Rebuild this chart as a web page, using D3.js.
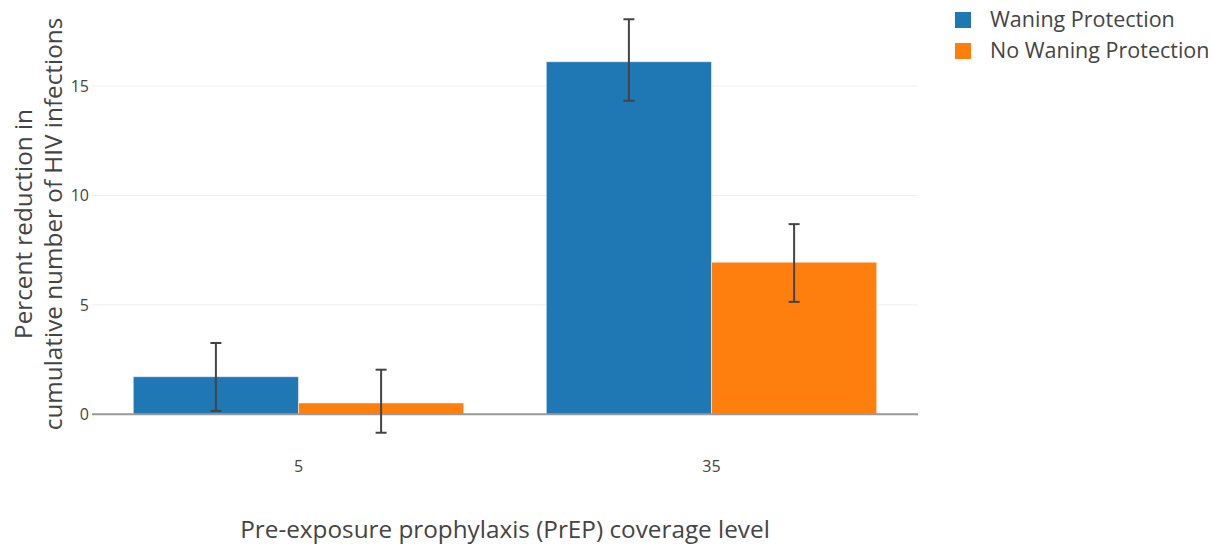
<!DOCTYPE html>
<html>
<head>
<meta charset="utf-8">
<script src="https://cdn.jsdelivr.net/npm/d3@7"></script>
<style>
  body { margin: 0; background: #fff; }
  svg { font-family: "Open Sans", sans-serif; }
</style>
</head>
<body>
<svg id="chart" width="1213" height="548"></svg>
<script>
// --- datos ---
const categories = ["5", "35"];
const seriesNames = ["Waning Protection", "No Waning Protection"];
const colors = ["#1f77b4", "#ff7f0e"];
const waning = [1.72, 16.11];
const waningLow = [0.16, 14.33];
const waningHigh = [3.26, 18.05];
const noWaning = [0.52, 6.95];
const noWaningLow = [-0.84, 5.14];
const noWaningHigh = [2.04, 8.69];
const yTicks = [0, 5, 10, 15];

const series = [
  { name: seriesNames[0], values: waning, low: waningLow, high: waningHigh },
  { name: seriesNames[1], values: noWaning, low: noWaningLow, high: noWaningHigh }
];

const plotLeft = 92, plotRight = 918, plotTop = 0, plotBottom = 452;

const svg = d3.select("#chart");

const x = d3.scaleBand()
    .domain(categories)
    .range([plotLeft, plotRight])
    .paddingInner(0.2)
    .paddingOuter(0.1);

const xSub = d3.scaleBand()
    .domain(seriesNames)
    .range([0, x.bandwidth()]);

const y = d3.scaleLinear()
    .domain([-1.72, 18.93])
    .range([plotBottom, plotTop]);

// --- gridlines ---
svg.append("g")
  .selectAll("line")
  .data(yTicks.filter(d => d !== 0))
  .join("line")
    .attr("x1", plotLeft).attr("x2", plotRight)
    .attr("y1", d => y(d)).attr("y2", d => y(d))
    .attr("stroke", "#eee")
    .attr("stroke-width", 1);

// --- ejes (etiquetas) ---
const yAxis = svg.append("g")
    .attr("transform", `translate(${plotLeft},0)`)
    .call(d3.axisLeft(y).tickValues(yTicks).tickSize(0).tickPadding(3));
yAxis.select(".domain").remove();
yAxis.selectAll("text")
    .attr("fill", "#444")
    .style("font-size", "16px")
    .style("font-family", "Open Sans");

const xAxis = svg.append("g")
    .attr("transform", `translate(0,${y(0)})`)
    .call(d3.axisBottom(x).tickSize(0).tickPadding(0));
xAxis.select(".domain").remove();
xAxis.selectAll("text")
    .attr("fill", "#444")
    .attr("dy", 0)
    .attr("y", 58)
    .style("font-size", "16px")
    .style("font-family", "Open Sans");

// --- barras ---
const groups = svg.append("g")
  .selectAll("g")
  .data(series)
  .join("g")
    .attr("fill", (d, i) => colors[i]);

groups.selectAll("rect")
  .data(s => s.values.map((v, j) => ({ name: s.name, cat: categories[j], v })))
  .join("rect")
    .attr("x", d => x(d.cat) + xSub(d.name))
    .attr("width", xSub.bandwidth())
    .attr("y", d => y(Math.max(0, d.v)))
    .attr("height", d => Math.abs(y(d.v) - y(0)))
    .attr("stroke", "rgba(255,255,255,0.5)")
    .attr("stroke-width", 1);

// --- linea cero ---
svg.append("line")
    .attr("x1", plotLeft).attr("x2", plotRight)
    .attr("y1", y(0)).attr("y2", y(0))
    .attr("stroke", "#999")
    .attr("stroke-width", 2);

// --- barras de error ---
const cap = 5.5;
const errs = svg.append("g")
  .selectAll("g")
  .data(series.flatMap(s => s.values.map((v, j) => ({
      name: s.name, cat: categories[j], lo: s.low[j], hi: s.high[j] }))))
  .join("g")
    .attr("stroke", "#444")
    .attr("stroke-width", 2)
    .attr("transform", d => `translate(${x(d.cat) + xSub(d.name) + xSub.bandwidth() / 2},0)`);

errs.append("line").attr("y1", d => y(d.lo)).attr("y2", d => y(d.hi));
errs.append("line").attr("x1", -cap).attr("x2", cap).attr("y1", d => y(d.lo)).attr("y2", d => y(d.lo));
errs.append("line").attr("x1", -cap).attr("x2", cap).attr("y1", d => y(d.hi)).attr("y2", d => y(d.hi));

// --- titulos de ejes ---
svg.append("text")
    .attr("x", (plotLeft + plotRight) / 2)
    .attr("y", 538)
    .attr("text-anchor", "middle")
    .attr("fill", "#444")
    .style("font-size", "24.3px")
    .text("Pre-exposure prophylaxis (PrEP) coverage level");

const yTitle = svg.append("text")
    .attr("transform", `translate(32,${(plotTop + plotBottom) / 2 - 2}) rotate(-90)`)
    .attr("text-anchor", "middle")
    .attr("fill", "#444")
    .style("font-size", "24.3px");
yTitle.append("tspan").attr("x", 0).attr("y", 0).text("Percent reduction in");
yTitle.append("tspan").attr("x", 0).attr("y", 30).text("cumulative number of HIV infections");

// --- leyenda ---
const legend = svg.append("g")
  .selectAll("g")
  .data(seriesNames)
  .join("g")
    .attr("transform", (d, i) => `translate(955,${12 + i * 31})`);

legend.append("rect")
    .attr("width", 16).attr("height", 16)
    .attr("fill", (d, i) => colors[i]);

legend.append("text")
    .attr("x", 35)
    .attr("y", 15)
    .attr("fill", "#444")
    .style("font-size", "21.5px")
    .text(d => d);
</script>
</body>
</html>
